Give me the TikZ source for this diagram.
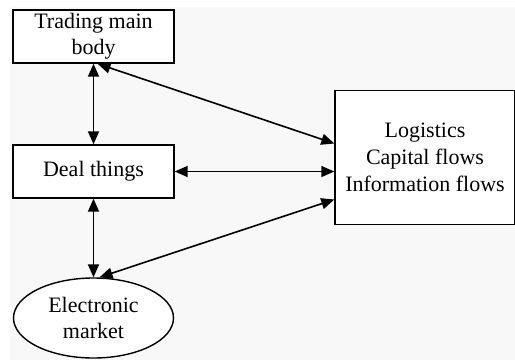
\documentclass[tikz,border=0pt]{standalone}
\usepackage{fontspec}
\setmainfont{Liberation Serif}
\usetikzlibrary{calc, shapes, shapes.geometric, positioning, arrows.meta}
\definecolor{bggray}{RGB}{248,248,248}
\tikzset{
  box/.style={draw, fill=white, line width=0.7pt, inner sep=0pt, align=center, font=\fontsize{11}{13}\selectfont},
  oval/.style={box, ellipse},
  link/.style={line width=0.8pt, {Triangle[length=6.5pt,width=5.5pt]}-{Triangle[length=6.5pt,width=5.5pt]}}
}
\begin{document}
\begin{tikzpicture}[x=0.5pt,y=-0.5pt]
       \useasboundingbox (0,0) rectangle (515,360);
       \fill[bggray] (10,7) rectangle (515,360);
       \node[box, minimum width=80.5pt, minimum height=26.5pt] (trade) at (93.5,36.5) {Trading main\\body};
       \node[box, minimum width=80.5pt, minimum height=26.5pt] (deal) at (93.5,171.5) {Deal things};
       \node[oval, minimum width=80pt, minimum height=40pt] (market) at (93.5,318) {Electronic\\market};
       \node[box, minimum width=90pt, minimum height=67pt, font=\fontsize{11}{13.5}\selectfont] (flows) at (425,157.5) {Logistics\\Capital flows\\Information flows};
       \draw[link] (trade.south) -- (deal.north);
       \draw[link] (deal.south) -- (market.north);
       \draw[link] (deal.east) -- (deal.east -| flows.west);
       \draw[link] ([xshift=2pt]trade.south) -- ([yshift=7pt]flows.west);
       \draw[link] ([xshift=3pt]market.north) -- ([yshift=-21pt]flows.west);
     \end{tikzpicture}
\end{document}
